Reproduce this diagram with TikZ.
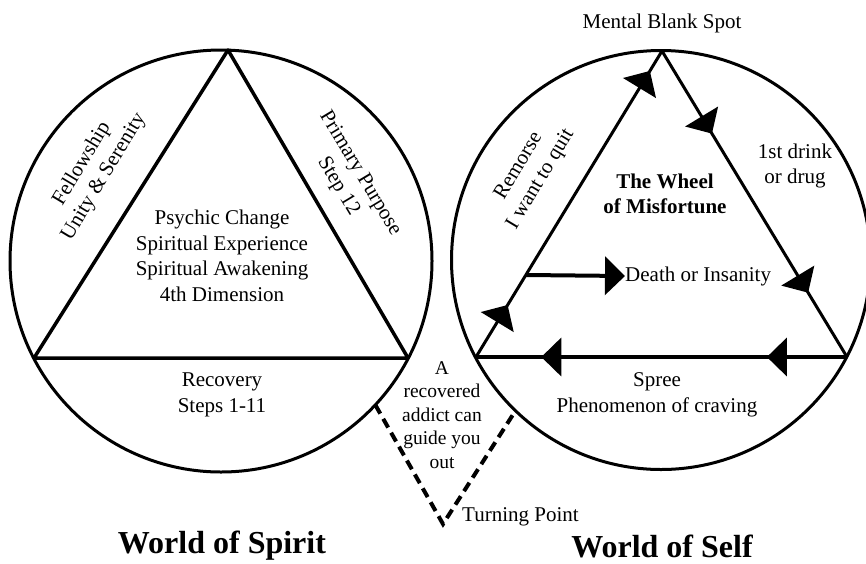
\documentclass[tikz,border=0pt]{standalone}
\usepackage{fontspec}
\setmainfont{Liberation Serif}
\usetikzlibrary{arrows.meta,decorations.markings,calc}
\tikzset{bigtri/.tip={Triangle[length=20pt,width=38pt]}}
\begin{document}
\begin{tikzpicture}[x=1pt,y=-1pt,
  txt/.style={align=center,inner sep=0pt,font=\fontsize{21}{25.5}\selectfont},
  smalltxt/.style={align=center,inner sep=0pt,font=\fontsize{19.5}{23.5}\selectfont},
  boldtxt/.style={align=center,inner sep=0pt,font=\fontsize{21}{25}\selectfont\bfseries},
  worldtitle/.style={inner sep=0pt,font=\fontsize{32}{38}\selectfont\bfseries},
  wheel/.style={circle,draw,line width=3pt,outer sep=0pt,inner sep=0pt},
  sideline/.style={line width=3pt,line join=miter},
  baseline/.style={line width=4pt},
  twomarks/.style 2 args={postaction={decorate},decoration={markings,
     mark=at position #1 with {\arrow{bigtri}},
     mark=at position #2 with {\arrow{bigtri}}}},
  guide/.style={line width=4pt,dash pattern=on 10pt off 6pt,line join=miter}
]
\useasboundingbox (0,0) rectangle (866,563);

% circles
\node[wheel,minimum size=422pt] (L) at (221,261) {};
\node[wheel,minimum size=419pt] (R) at (661,260) {};

% left triangle
\coordinate (LA) at (228,50);
\coordinate (LB1) at (34,358);
\coordinate (LB2) at (408,358);
\draw[line width=3.5pt,line join=round] (LA) -- (LB1) -- (LB2) -- cycle;

% right triangle
\coordinate (RA) at (662,51);
\coordinate (RB1) at (476,357);
\coordinate (RB2) at (847,357);
\draw[sideline,twomarks={0.17}{0.935}] (RB1) -- (RA);
\draw[sideline,twomarks={0.27}{0.79}] (RA) -- (RB2);
\draw[baseline,twomarks={0.216}{0.824}] (RB2) -- (RB1);

% death arrow
\coordinate (dstart) at ($(RB1)!0.268!(RA)$);
\node[txt,anchor=west] (death) at (625,276) {Death or Insanity};
\draw[baseline,-{bigtri}] (dstart) -- (death.west);

% left texts
\node[txt] (psychic) at (222,256) {Psychic Change\\Spiritual Experience\\Spiritual Awakening\\4th Dimension};
\node[txt] (recovery) at (222,395) {Recovery\\Steps 1-11};
\node[txt,rotate=59] (fellow) at (93,170) {Fellowship\\Unity \& Serenity};
\node[txt,rotate=-59] (primary) at (349,180) {Primary Purpose\\Step 12};

% right texts
\node[txt] (mental) at (662,23) {Mental Blank Spot};
\node[boldtxt] (wheeltitle) at (665,194) {The Wheel\\of Misfortune};
\node[txt,rotate=59] (remorse) at (530,173) {Remorse\\I want to quit};
\node[txt] (drink) at (795,166) {1st drink\\or drug};
\node[txt] (spree) at (657,395) {Spree\\Phenomenon of craving};

% guide
\node[smalltxt] (addict) at (442,415) {A\\recovered\\addict can\\guide you\\out};
\coordinate (TP) at (443,524);
\draw[guide] (L.-43.5) -- (TP) -- (R.-134);
\node[txt,anchor=west] (turning) at (462,517) {Turning Point};

% titles
\node[worldtitle] (spirit) at (222,546) {World of Spirit};
\node[worldtitle] (self) at (662,546) {World of Self};
\end{tikzpicture}
\end{document}
